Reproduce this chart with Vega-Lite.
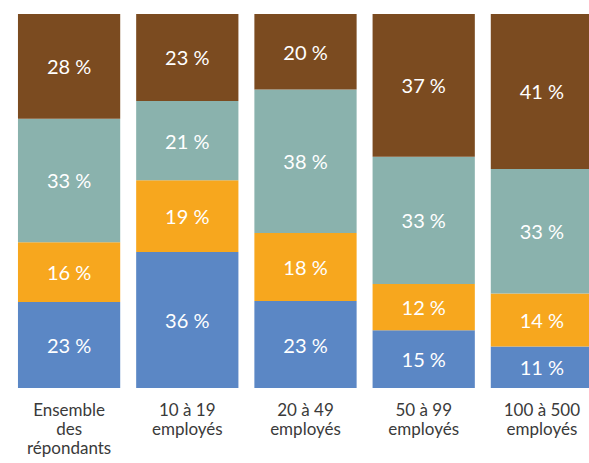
{
  "$schema": "https://vega.github.io/schema/vega-lite/v6.json",
  "width": 589,
  "height": 374,
  "autosize": "none",
  "padding": {"left": 0, "right": 0, "top": 14, "bottom": 75},
  "background": "white",
  "config": {"view": {"stroke": null}, "font": "Lato"},
  "data": {"values": [
    {"cat": "Ensemble|des|répondants", "serie": "A", "ord": 1, "v": 23, "lab": "23 %"},
    {"cat": "Ensemble|des|répondants", "serie": "B", "ord": 2, "v": 16, "lab": "16 %"},
    {"cat": "Ensemble|des|répondants", "serie": "C", "ord": 3, "v": 33, "lab": "33 %"},
    {"cat": "Ensemble|des|répondants", "serie": "D", "ord": 4, "v": 28, "lab": "28 %"},
    {"cat": "10 à 19|employés", "serie": "A", "ord": 1, "v": 36, "lab": "36 %"},
    {"cat": "10 à 19|employés", "serie": "B", "ord": 2, "v": 19, "lab": "19 %"},
    {"cat": "10 à 19|employés", "serie": "C", "ord": 3, "v": 21, "lab": "21 %"},
    {"cat": "10 à 19|employés", "serie": "D", "ord": 4, "v": 23, "lab": "23 %"},
    {"cat": "20 à 49|employés", "serie": "A", "ord": 1, "v": 23, "lab": "23 %"},
    {"cat": "20 à 49|employés", "serie": "B", "ord": 2, "v": 18, "lab": "18 %"},
    {"cat": "20 à 49|employés", "serie": "C", "ord": 3, "v": 38, "lab": "38 %"},
    {"cat": "20 à 49|employés", "serie": "D", "ord": 4, "v": 20, "lab": "20 %"},
    {"cat": "50 à 99|employés", "serie": "A", "ord": 1, "v": 15, "lab": "15 %"},
    {"cat": "50 à 99|employés", "serie": "B", "ord": 2, "v": 12, "lab": "12 %"},
    {"cat": "50 à 99|employés", "serie": "C", "ord": 3, "v": 33, "lab": "33 %"},
    {"cat": "50 à 99|employés", "serie": "D", "ord": 4, "v": 37, "lab": "37 %"},
    {"cat": "100 à 500|employés", "serie": "A", "ord": 1, "v": 11, "lab": "11 %"},
    {"cat": "100 à 500|employés", "serie": "B", "ord": 2, "v": 14, "lab": "14 %"},
    {"cat": "100 à 500|employés", "serie": "C", "ord": 3, "v": 33, "lab": "33 %"},
    {"cat": "100 à 500|employés", "serie": "D", "ord": 4, "v": 41, "lab": "41 %"}
  ]},
  "encoding": {
    "x": {
      "field": "cat", "type": "nominal", "sort": null,
      "scale": {"range": [0, 611], "paddingInner": 0.135, "paddingOuter": 0.152},
      "axis": {
        "title": null, "labelAngle": 0, "domain": false, "ticks": false,
        "labelExpr": "split(datum.label, '|')",
        "labelFontSize": 17, "labelColor": "#3a3a3a", "labelPadding": 14,
        "labelLineHeight": 19, "labelBaseline": "top", "labelFont": "Lato"
      }
    },
    "order": {"field": "ord", "type": "quantitative"}
  },
  "layer": [
    {
      "mark": {"type": "bar"},
      "encoding": {
        "y": {"field": "v", "type": "quantitative", "stack": "normalize", "axis": null},
        "color": {
          "field": "serie", "type": "nominal", "legend": null,
          "scale": {"domain": ["A", "B", "C", "D"], "range": ["#5B87C5", "#F7A71E", "#8AB2AD", "#7B4B20"]}
        }
      }
    },
    {
      "mark": {"type": "text", "color": "white", "fontSize": 20, "font": "Lato", "baseline": "middle", "dy": 2},
      "encoding": {
        "y": {"field": "v", "type": "quantitative", "stack": "normalize", "bandPosition": 0.5},
        "text": {"field": "lab", "type": "nominal"}
      }
    }
  ]
}
